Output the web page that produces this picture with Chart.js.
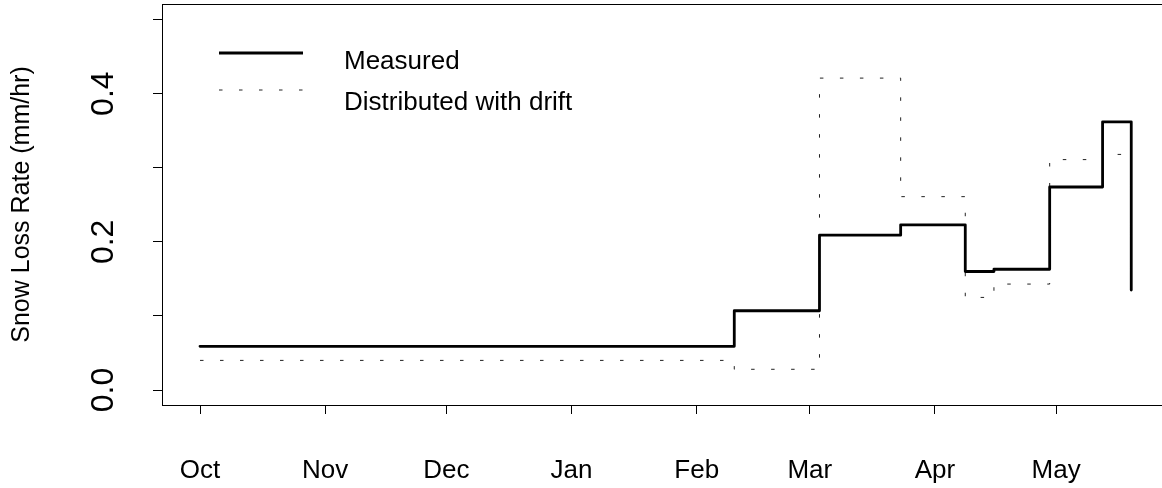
<!DOCTYPE html>
<html>
<head>
<meta charset="utf-8">
<script src="https://cdn.jsdelivr.net/npm/chart.js@4"></script>
<style>
  html, body { margin: 0; padding: 0; background: #fff; overflow: hidden; }
  #wrap { width: 1170px; height: 488px; }
</style>
</head>
<body>
<div id="wrap"><canvas id="snowChart"></canvas></div>
<script>
// days counted from 1 Oct
let monthDays = [0, 31, 61, 92, 123, 151, 182, 212];
let monthLabels = ["Oct", "Nov", "Dec", "Jan", "Feb", "Mar", "Apr", "May"];

let yTicks = [0, 0.1, 0.2, 0.3, 0.4, 0.5];
let yLabelled = [0, 0.2, 0.4];

let stepDays = [0, 132.3, 153.4, 173.5, 189.5, 196.6, 210.4, 223.5, 230.6];
let measured = [0.059, 0.107, 0.209, 0.223, 0.160, 0.163, 0.274, 0.362, 0.135];
let drift = [0.040, 0.028, 0.421, 0.261, 0.125, 0.143, 0.311, 0.318, 0.318];

let seriesNames = ["Measured", "Distributed with drift"];

const FONT = "'Liberation Sans', Arial, Helvetica, sans-serif";

function toPoints(xs, ys) {
    return xs.map((x, i) => ({ x: x, y: ys[i] }));
}

// box round the plot region, like R's bty="o"
const boxPlugin = {
    id: "box",
    afterDraw(chart) {
        const a = chart.chartArea;
        const ctx = chart.ctx;
        ctx.save();
        ctx.strokeStyle = "#000";
        ctx.lineWidth = 1;
        ctx.strokeRect(Math.round(a.left) + 0.5, Math.round(a.top) + 0.5,
            Math.round(a.right - a.left), Math.round(a.bottom - a.top));
        ctx.restore();
    }
};

// legend drawn inside the plot, top left
const legendPlugin = {
    id: "rlegend",
    afterDraw(chart) {
        const ctx = chart.ctx;
        ctx.save();
        chart.data.datasets.forEach((ds, i) => {
            const ly = 53 + i * 37;
            ctx.beginPath();
            ctx.strokeStyle = ds.borderColor;
            ctx.lineWidth = ds.borderWidth;
            ctx.setLineDash(ds.borderDash || []);
            ctx.lineCap = "butt";
            ctx.moveTo(219, ly);
            ctx.lineTo(303, ly);
            ctx.stroke();
            ctx.setLineDash([]);
            ctx.fillStyle = "#000";
            ctx.font = "26px " + FONT;
            ctx.textBaseline = "alphabetic";
            ctx.textAlign = "left";
            ctx.fillText(ds.label, 344, 69 + i * 41);
        });
        ctx.restore();
    }
};

new Chart("snowChart", {
    type: "line",
    data: {
        datasets: [{
            label: seriesNames[0],
            data: toPoints(stepDays, measured),
            borderColor: "#000",
            borderWidth: 2.8,
            stepped: true,
            pointRadius: 0,
            borderCapStyle: "round",
            borderJoinStyle: "round",
            fill: false
        }, {
            label: seriesNames[1],
            data: toPoints(stepDays, drift),
            borderColor: "#222",
            borderWidth: 1,
            borderDash: [3.5, 16.5],
            stepped: true,
            pointRadius: 0,
            fill: false
        }]
    },
    options: {
        responsive: true,
        maintainAspectRatio: false,
        animation: false,
        events: [],
        layout: { padding: { left: 0, right: 2, top: 4, bottom: 0 } },
        plugins: {
            legend: { display: false },
            tooltip: { enabled: false }
        },
        scales: {
            x: {
                type: "linear",
                min: -9.41,
                max: 239.7,
                afterBuildTicks: (scale) => {
                    scale.ticks = monthDays.map(v => ({ value: v }));
                },
                afterFit: (scale) => {
                    scale.height = 83;
                    scale.paddingLeft = 0;
                    scale.paddingRight = 0;
                },
                ticks: {
                    autoSkip: false,
                    maxRotation: 0,
                    padding: 41,
                    color: "#000",
                    font: { family: FONT, size: 26 },
                    callback: (value, index) => monthLabels[index]
                },
                grid: {
                    drawOnChartArea: false,
                    drawTicks: true,
                    tickLength: 9,
                    tickColor: "#000",
                    lineWidth: 1
                },
                border: { display: false }
            },
            y: {
                min: -0.0202,
                max: 0.521,
                afterBuildTicks: (scale) => {
                    scale.ticks = yTicks.map(v => ({ value: v }));
                },
                afterFit: (scale) => {
                    scale.width = 162;
                    scale.paddingTop = 0;
                    scale.paddingBottom = 0;
                },
                ticks: {
                    autoSkip: false,
                    minRotation: 90,
                    maxRotation: 90,
                    crossAlign: "center",
                    padding: 27,
                    color: "#000",
                    font: { family: FONT, size: 32 },
                    callback: (value) => yLabelled.some(v => Math.abs(v - value) < 1e-9) ? value.toFixed(1) : ""
                },
                grid: {
                    drawOnChartArea: false,
                    drawTicks: true,
                    tickLength: 9,
                    tickColor: "#000",
                    lineWidth: 1
                },
                border: { display: false },
                title: {
                    display: true,
                    text: "Snow Loss Rate (mm/hr)",
                    color: "#000",
                    font: { family: FONT, size: 25 },
                    padding: { top: 7, bottom: 0 }
                }
            }
        }
    },
    plugins: [boxPlugin, legendPlugin]
});
</script>
</body>
</html>
